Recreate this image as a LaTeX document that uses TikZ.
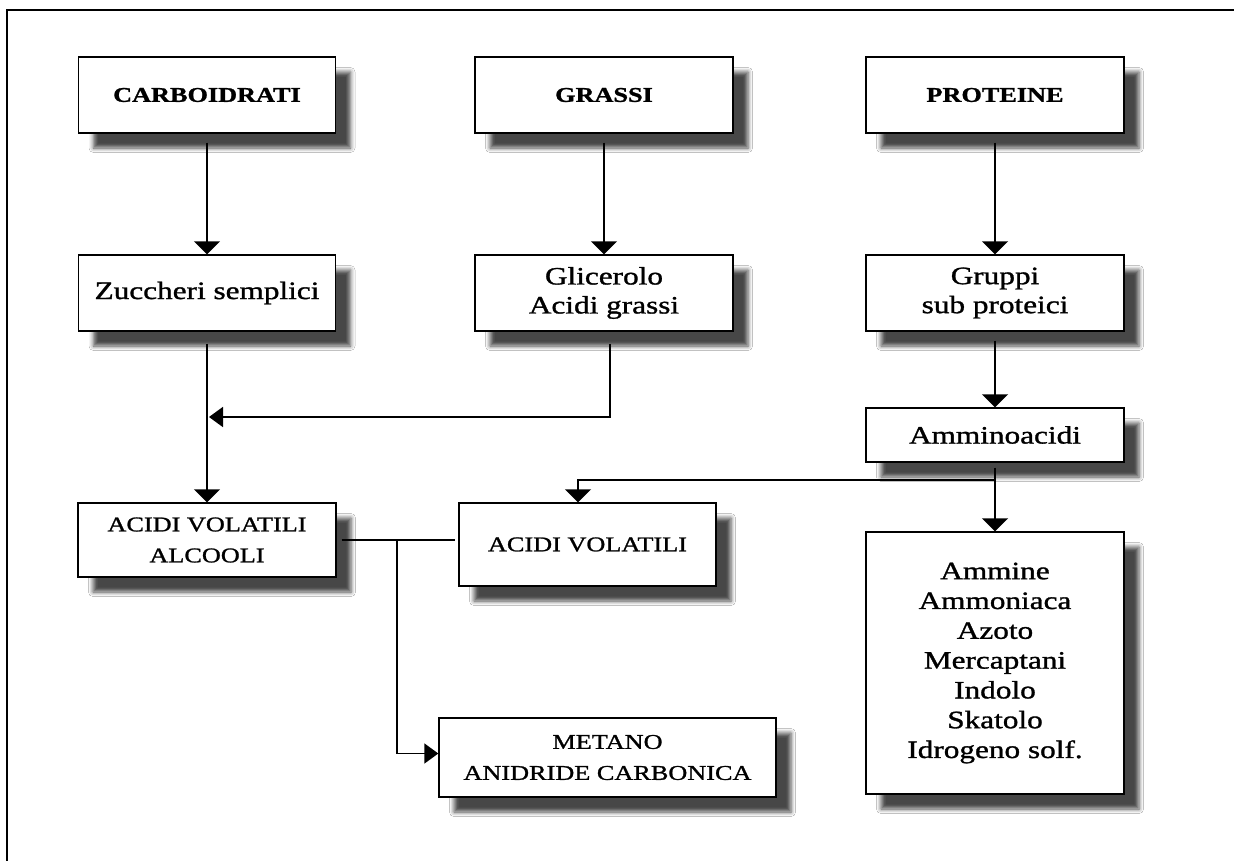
\documentclass[tikz,border=0pt]{standalone}
\usepackage{fontspec}
\setmainfont{Liberation Serif}[FakeStretch=1.25,FakeBold=1.2]
\usetikzlibrary{arrows.meta,shadows.blur}
\begin{document}
\begin{tikzpicture}[x=1pt,y=-1pt,
  box/.style={draw,line width=1.4pt,fill=white,align=center,inner sep=0pt,
    blur shadow={shadow xshift=15pt,shadow yshift=-15pt,shadow blur radius=4.5pt,shadow opacity=72}},
  lc/.style={font=\fontsize{25}{29}\selectfont},
  uc/.style={font=\fontsize{21}{31}\selectfont},
  hd/.style={font=\fontsize{21}{31}\selectfont\bfseries},
  conn/.style={line width=1.8pt},
  arr/.style={conn,-{Triangle[width=26pt,length=13pt]}},
  arrs/.style={conn,-{Triangle[width=20pt,length=14pt]}},
]
\useasboundingbox (0,0) rectangle (1234,860);
\fill[white] (0,0) rectangle (1234,860);
\begin{scope}
\clip (0,0) rectangle (1234,860);
\draw[line width=2pt] (7,870) -- (7,10) -- (1250,10);
\end{scope}

% top row
\node[box,hd,minimum width=257pt,minimum height=76pt] (carb) at (207,95) {CARBOIDRATI};
\node[box,hd,minimum width=258pt,minimum height=76pt] (grassi) at (604,95) {GRASSI};
\node[box,hd,minimum width=258pt,minimum height=76pt] (prot) at (995,95) {PROTEINE};

% second row
\node[box,lc,minimum width=257pt,minimum height=76pt] (zucc) at (207,293) {Zuccheri semplici};
\node[box,lc,minimum width=258pt,minimum height=76pt] (glic) at (604,293) {Glicerolo\\Acidi grassi};
\node[box,lc,minimum width=258pt,minimum height=76pt] (grup) at (995,293) {Gruppi\\sub proteici};

\node[box,lc,minimum width=258pt,minimum height=54pt] (ammino) at (995,435) {Amminoacidi};

% third row
\node[box,uc,minimum width=258pt,minimum height=74pt] (avalc) at (207,540) {ACIDI VOLATILI\\ALCOOLI};
\node[box,uc,minimum width=257pt,minimum height=83pt] (av) at (587.5,544.5) {ACIDI VOLATILI};
\node[box,lc,minimum width=258pt,minimum height=262pt,font=\fontsize{25}{29.8}\selectfont] (ammine) at (995,663)
  {Ammine\\Ammoniaca\\Azoto\\Mercaptani\\Indolo\\Skatolo\\Idrogeno solf.};
\node[box,uc,minimum width=337pt,minimum height=79pt] (met) at (607.5,757.5) {METANO\\ANIDRIDE CARBONICA};

% junctions
\coordinate (j1) at (207,417);
\coordinate (j2) at (995,480);
\coordinate (j4) at (397,540);

% connectors
\draw[arr] ([yshift=-9pt]carb.south) -- (zucc.north);
\draw[arr] ([yshift=-9pt]grassi.south) -- (glic.north);
\draw[arr] ([yshift=-9pt]prot.south) -- (grup.north);
\draw[arr] ([yshift=-12pt]zucc.south) -- (avalc.north);
\draw[arrs] ([yshift=-12pt,xshift=6pt]glic.south) |- ([xshift=2pt]j1);
\draw[arr] ([yshift=-9pt]grup.south) -- (ammino.north);
\draw[arr] ([yshift=-5pt]ammino.south) -- (ammine.north);
\draw[arr] (j2) -| ([xshift=-9.5pt]av.north);
\draw[conn] ([xshift=5pt]avalc.east) -- ([xshift=-3pt]avalc.east -| av.west);
\draw[arrs] (j4) |- ([yshift=4pt]met.west);
\end{tikzpicture}
\end{document}
